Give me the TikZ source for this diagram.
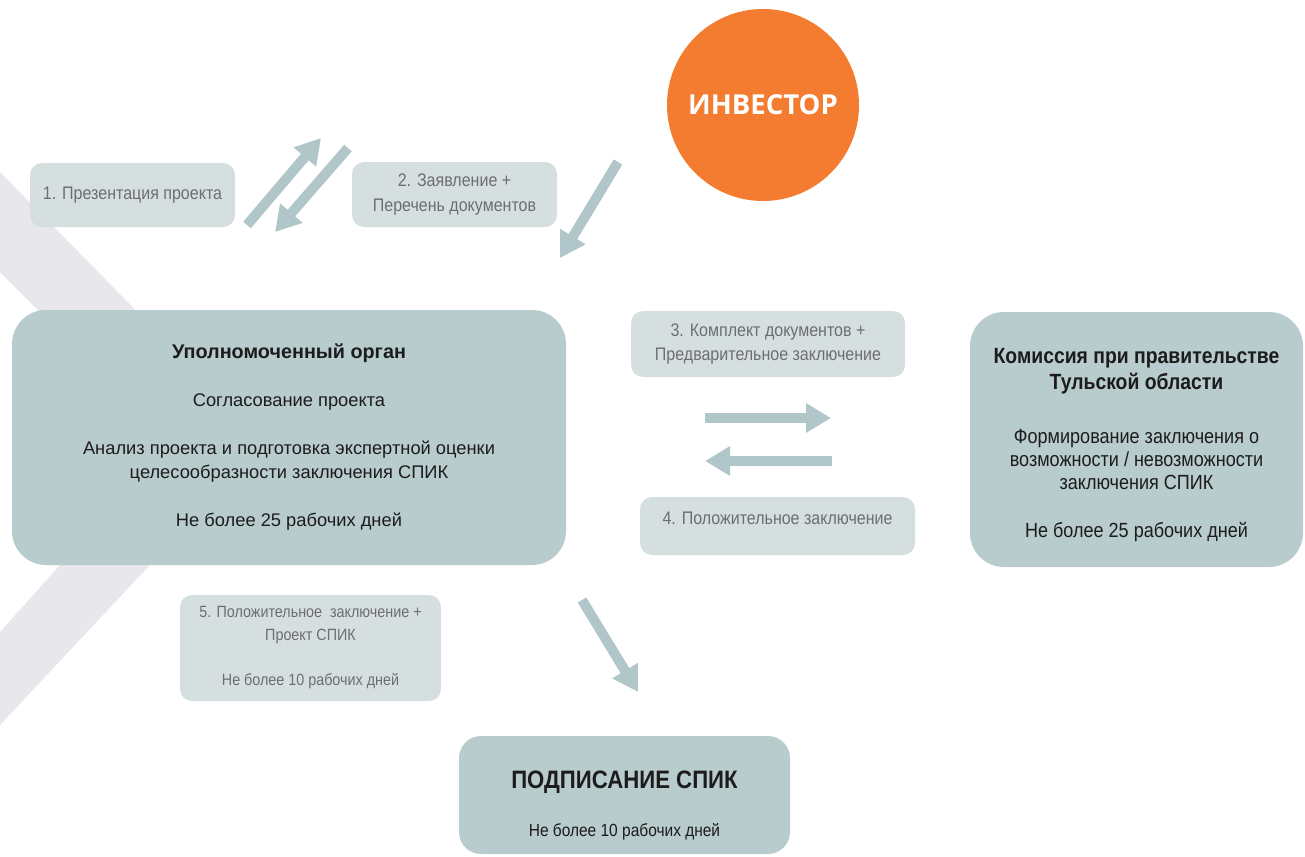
\documentclass[tikz,border=0pt]{standalone}
\usepackage{fontspec}
\setmainfont{Liberation Sans}
\newfontfamily\narrowfont{Liberation Sans}[FakeStretch=0.88]
\newfontfamily\headfont{Open Sans}
\usetikzlibrary{arrows.meta,positioning}
\definecolor{invorange}{HTML}{F47C30}
\definecolor{boxdark}{HTML}{B8CBCD}
\definecolor{boxlight}{HTML}{D6DFE0}
\definecolor{flowcol}{HTML}{B1C6C8}
\definecolor{chevcol}{HTML}{E7E7EC}
\definecolor{textgrey}{HTML}{6E6E6E}
\definecolor{textdark}{HTML}{1C1C1C}
\newcommand{\ttl}[1]{{\bfseries\fontsize{22}{26}\selectfont #1}}

\begin{document}
\begin{tikzpicture}[x=1pt,y=-1pt,
	stage/.style={rounded corners=34pt,fill=boxdark,text=textdark,align=center,inner sep=0pt},
	lbl/.style={rounded corners=12pt,fill=boxlight,text=textgrey,align=center,inner sep=0pt,
		font=\narrowfont\fontsize{18.2}{24.5}\selectfont},
	flow/.style={draw=flowcol,line width=10pt,-{Triangle[length=25pt,width=28pt]}}]
	\useasboundingbox (0,0) rectangle (1305,856);
	\fill[chevcol] (0,172) -- (265,442) -- (0,725) -- (0,632) -- (170,442) -- (0,272) -- cycle;

	\node[circle,fill=invorange,minimum size=192pt,inner sep=0pt,text=white,
		font=\headfont\bfseries\fontsize{27.5}{30}\selectfont] (inv) at (763,105) {ИНВЕСТОР};

	\node[lbl,minimum width=205pt,minimum height=64pt] (pres) at (132.5,195) {1. Презентация проекта};
	\node[lbl,minimum width=205pt,minimum height=65pt] (appl) at (454.5,194.5) {2. Заявление +\\Перечень документов};
	\node[lbl,minimum width=274pt,minimum height=66pt] (docs) at (768,344) {3. Комплект документов +\\Предварительное заключение};
	\node[lbl,minimum width=275pt,minimum height=58pt] (posc) at (777.5,526) {4. Положительное заключение\rule[-16pt]{0pt}{16pt}};
	\node[lbl,minimum width=261pt,minimum height=106pt,font=\narrowfont\fontsize{16.3}{23}\selectfont] (draft) at (310.5,648)
		{5. Положительное\ \ заключение +\\Проект СПИК\\[22pt]Не более 10 рабочих дней};

	\node[stage,minimum width=554pt,minimum height=255pt,font=\fontsize{18.3}{24}\selectfont] (auth) at (289,437.5)
		{\textbf{\fontsize{19.8}{24}\selectfont Уполномоченный орган}\\[24pt]
		Согласование проекта\\[24pt]
		Анализ проекта и подготовка экспертной оценки\\целесообразности заключения СПИК\\[24pt]
		Не более 25 рабочих дней};
	\node[stage,minimum width=333pt,minimum height=255pt,font=\narrowfont\fontsize{20.5}{23}\selectfont] (kom) at (1136.5,439.5)
		{\ttl{\rule{0pt}{26pt}Комиссия при правительстве}\\[3pt]\ttl{Тульской области}\\[31pt]
		Формирование заключения о\\возможности / невозможности\\заключения СПИК\\[25pt]
		Не более 25 рабочих дней};
	\node[stage,rounded corners=22pt,minimum width=331pt,minimum height=118pt,font=\narrowfont\fontsize{17.6}{24}\selectfont] (sign) at (624.5,795)
		{\textbf{\fontsize{25.2}{28}\selectfont\rule{0pt}{38pt}ПОДПИСАНИЕ СПИК}\\[24pt]Не более 10 рабочих дней};

	\coordinate (a1s) at (247,225);
	\coordinate (a1e) at (321,138);
	\coordinate (a2s) at (348,148);
	\coordinate (a2e) at (275,232);
	\coordinate (a3s) at (618,162);
	\coordinate (a3e) at (560,258);
	\coordinate (a4s) at (705,418);
	\coordinate (a4e) at (831,418);
	\coordinate (a5s) at (832,461);
	\coordinate (a5e) at (705,461);
	\coordinate (a6s) at (582,600);
	\coordinate (a6e) at (638,692);
	\draw[flow] (a1s) -- (a1e);
	\draw[flow] (a2s) -- (a2e);
	\draw[flow] (a3s) -- (a3e);
	\draw[flow] (a4s) -- (a4e);
	\draw[flow] (a5s) -- (a5e);
	\draw[flow] (a6s) -- (a6e);
\end{tikzpicture}
\end{document}
